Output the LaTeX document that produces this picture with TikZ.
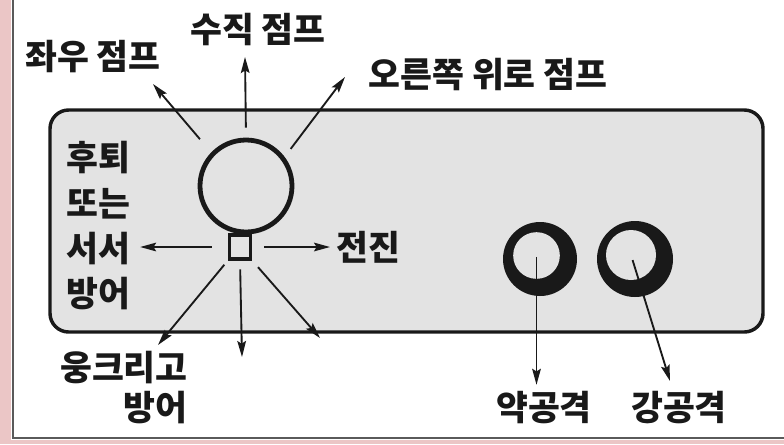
\documentclass[tikz,border=0pt]{standalone}
\usepackage{fontspec}
\setmainfont{Noto Sans CJK KR}
\usepackage{xcolor}
\usetikzlibrary{arrows.meta,positioning}
\definecolor{jpanel}{HTML}{E3E3E3}
\definecolor{jpink}{HTML}{EBC6C6}
\definecolor{jedge}{HTML}{5A5A5A}
\tikzset{
  >={Stealth[length=12pt,width=6.5pt,inset=2pt]},
  jpanelbox/.style={draw=black!90, fill=jpanel, line width=2.6pt, rounded corners=14pt},
  jball/.style={circle, draw=black!90, line width=3.6pt, minimum size=69pt, inner sep=0pt},
  jbase/.style={rectangle, draw=black!90, fill=jpanel, line width=2.4pt,
                minimum width=16pt, minimum height=18pt, inner sep=0pt},
  jbtn/.style={circle, fill=black!90, inner sep=0pt},
  jhole/.style={circle, fill=jpanel, inner sep=0pt},
  jarr/.style={->, black!90, line width=1.4pt},
  jlbl/.style={font=\fontsize{26}{34}\selectfont\bfseries, text=black!90, inner sep=0pt},
}

\begin{document}
\begin{tikzpicture}[x=0.75pt,y=-0.75pt]
  \useasboundingbox (0,0) rectangle (784,444);

  % 스캔 가장자리
  \fill[white] (0,0) rectangle (784,444);
  \fill[jpink] (0,0) rectangle (11,444);
  \fill[jpink] (0,440) rectangle (784,444);
  \draw[jedge, line width=1.8pt] (13,0) -- (13,438) -- (784,438);

  % 패널
  \draw[jpanelbox] (50,110) rectangle (763,332);

  % 조이스틱
  \node[jbase] (base) at (240,247) {};
  \node[jball] (ball) at (246,186) {};

  % 버튼
  \node[jbtn, minimum size=55.5pt] (btnA) at (540,259) {};
  \node[jhole, minimum size=35pt] (holeA) at (536.5,255.5) {};
  \node[jbtn, minimum size=57pt] (btnB) at (635,259) {};
  \node[jhole, minimum size=37.5pt] (holeB) at (631,255) {};

  % 라벨
  \node[jlbl] (jumpL) at (93,57) {좌우 점프};
  \node[jlbl] (jumpU) at (258,30) {수직 점프};
  \node[jlbl] (jumpR) at (488,75) {오른쪽 위로 점프};
  \node[jlbl, align=center] (back) at (98,226) {후퇴\\또는\\서서\\방어};
  \node[jlbl, anchor=west] (fwd) at (336,247) {전진};
  \node[jlbl, font=\fontsize{26}{30}\selectfont\bfseries, align=right, anchor=east]
    (crouch) at (188,388) {웅크리고\\방어};
  \node[jlbl] (atkA) at (544,408) {약공격};
  \node[jlbl] (atkB) at (679,408) {강공격};

  % 화살표 끝
  \coordinate (ulT) at (153,84);
  \coordinate (upT) at (245,57);
  \coordinate (urT) at (345,77);
  \coordinate (dlT) at (158,345);
  \coordinate (dnT) at (242,357);
  \coordinate (drT) at (320,338);
  \coordinate (bT) at (670,381);

  % 방향 화살표
  \draw[jarr, shorten <=7.5pt] (ball.north) -- (upT);
  \draw[jarr, shorten <=13pt] (ball.136) -- (ulT);
  \draw[jarr, shorten <=7.5pt] (ball.37) -- (urT);
  \draw[jarr, shorten <=12pt, shorten >=7.5pt] (base.west) -- (base.west -| back.east);
  \draw[jarr, shorten <=9pt, shorten >=4.5pt] (base.east) -- (fwd.west);
  \draw[jarr, shorten <=4pt] (base.south west) -- (dlT);
  \draw[jarr, shorten <=6.5pt] (base.south) -- (dnT);
  \draw[jarr, shorten <=6.5pt] (base.south east) -- (drT);

  % 공격 화살표
  \draw[jarr, shorten <=1pt, shorten >=5pt] (holeA.center) -- (holeA.center |- atkA.north);
  \draw[jarr, shorten <=4pt] (holeB.center) -- (bT);

\end{tikzpicture}
\end{document}
